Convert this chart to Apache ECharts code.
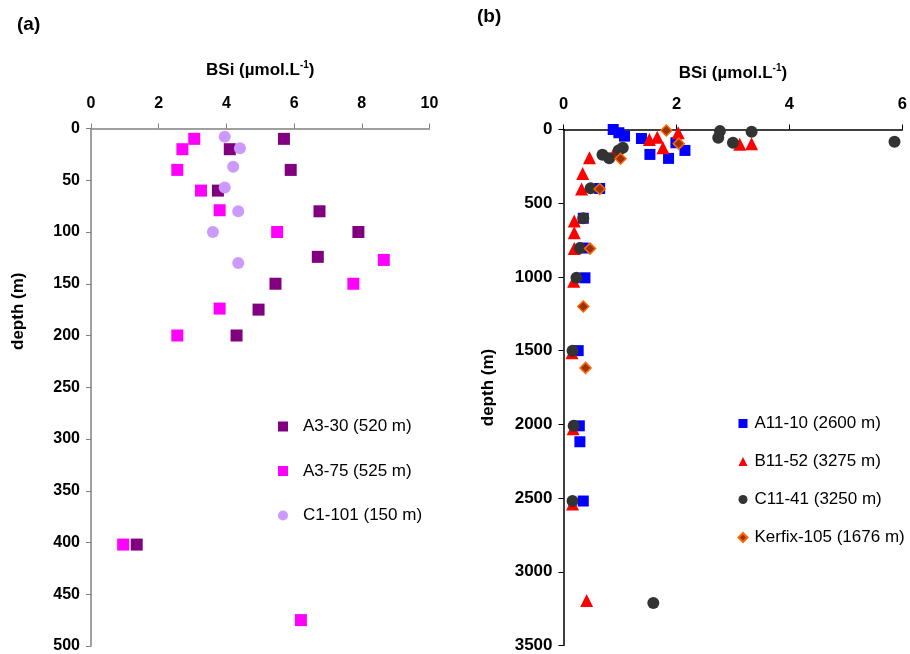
<!DOCTYPE html>
<html>
<head>
<meta charset="utf-8">
<script src="https://cdn.jsdelivr.net/npm/echarts@6/dist/echarts.min.js"></script>
<style>
html,body{margin:0;padding:0;background:#fff;}
#chart{width:910px;height:654px;}
</style>
</head>
<body>
<div id="chart"></div>
<script>
// ---------- Panel (a) data ----------
var a330_x = [5.7, 4.1, 5.9, 3.75, 6.75, 7.9, 6.7, 5.45, 4.95, 4.3, 1.35];
var a330_y = [10, 20, 40, 60, 80, 100, 124, 150, 175, 200, 402];
var a375_x = [3.05, 2.7, 2.55, 3.25, 3.8, 5.5, 8.65, 7.75, 3.8, 2.55, 0.95, 6.2];
var a375_y = [10, 20, 40, 60, 79, 100, 127, 150, 174, 200, 402, 475];
var c1101_x = [3.95, 4.4, 4.2, 3.95, 4.35, 3.6, 4.35];
var c1101_y = [8, 19, 37, 57, 80, 100, 130];
var namesA = ['A3-30 (520 m)', 'A3-75 (525 m)', 'C1-101 (150 m)'];
var ticksAx = [0, 2, 4, 6, 8, 10];
var ticksAy = [0, 50, 100, 150, 200, 250, 300, 350, 400, 450, 500];

// ---------- Panel (b) data ----------
var a1110_x = [0.88, 0.98, 1.08, 1.38, 1.53, 1.86, 2.15, 1.99, 0.64, 0.35, 0.35, 0.38, 0.26, 0.28, 0.29, 0.35];
var a1110_y = [0, 22, 45, 61, 169, 196, 142, 90, 400, 602, 804, 1006, 1500, 2010, 2118, 2520];
var b1152_x = [0.46, 0.34, 0.32, 0.9, 1.52, 1.66, 1.76, 2.03, 3.12, 3.33, 0.19, 0.19, 0.19, 0.18, 0.15, 0.17, 0.16, 0.41];
var b1152_y = [191, 298, 404, 157, 67, 52, 123, 22, 100, 96, 620, 700, 808, 1030, 1515, 2030, 2540, 3195];
var c1141_x = [0.69, 0.81, 1.05, 0.98, 0.48, 0.35, 0.29, 0.23, 0.16, 0.18, 0.16, 1.59, 2.77, 2.74, 3.0, 3.33, 5.86];
var c1141_y = [172, 195, 123, 141, 398, 602, 804, 1006, 1500, 2010, 2520, 3212, 11, 56, 90, 16, 83];
var kerfix_x = [1.82, 2.04, 1.01, 0.64, 0.47, 0.35, 0.39];
var kerfix_y = [7, 96, 198, 404, 808, 1201, 1617];
var namesB = ['A11-10 (2600 m)', 'B11-52 (3275 m)', 'C11-41 (3250 m)', 'Kerfix-105 (1676 m)'];
var ticksBx = [0, 2, 4, 6];
var ticksBy = [0, 500, 1000, 1500, 2000, 2500, 3000, 3500];

function pts(xs, ys) { return xs.map(function (x, i) { return [x, ys[i]]; }); }

var FONT = 'Liberation Sans, Arial, sans-serif';
var richName = {
  sup: { fontSize: 10, fontWeight: 'bold', fontFamily: FONT, color: '#000', padding: [0, 0, 10, 0] }
};
function plain(v) { return String(v); }

function xAxis(idx, max, interval, lineColor, gap, fs) {
  return {
    gridIndex: idx, type: 'value', position: 'top', min: 0, max: max, interval: interval,
    name: 'BSi (µmol.L{sup|-1})', nameLocation: 'middle', nameGap: gap,
    nameTextStyle: { fontSize: 17, fontWeight: 'bold', fontFamily: FONT, color: '#000', rich: richName },
    axisLine: { show: true, lineStyle: { color: lineColor, width: 1.5 } },
    axisTick: { show: true, inside: false, length: 5, lineStyle: { color: lineColor } },
    axisLabel: { fontSize: fs, fontWeight: 'bold', fontFamily: FONT, color: '#000', margin: 17, formatter: plain },
    splitLine: { show: false }
  };
}
function yAxis(idx, max, interval, lineColor, withName, fs) {
  var ax = {
    gridIndex: idx, type: 'value', inverse: true, min: 0, max: max, interval: interval,
    axisLine: { show: true, onZero: false, lineStyle: { color: lineColor, width: 1.5 } },
    axisTick: { show: true, inside: false, length: 5, lineStyle: { color: lineColor } },
    axisLabel: { fontSize: fs, fontWeight: 'bold', fontFamily: FONT, color: '#000', margin: 11, formatter: plain },
    splitLine: { show: false }
  };
  if (withName) {
    ax.name = 'depth (m)'; ax.nameLocation = 'middle'; ax.nameGap = 67; ax.nameRotate = 90;
    ax.nameTextStyle = { fontSize: 17, fontWeight: 'bold', fontFamily: FONT, color: '#000' };
  }
  return ax;
}

var chart = echarts.init(document.getElementById('chart'), null, { renderer: 'canvas' });
var option = {
  animation: false,
  backgroundColor: '#fff',
  grid: [
    { left: 91, top: 128.5, width: 338.5, height: 520 },
    { left: 563.5, top: 129.5, width: 343, height: 519.5 }
  ],
  xAxis: [xAxis(0, 10, 2, '#808080', 48, 16), xAxis(1, 6, 2, '#000', 46, 16.5)],
  yAxis: [yAxis(0, 500, 50, '#808080', false, 16), yAxis(1, 3500, 500, '#000', true, 17)],
  legend: [
    {
      data: namesA, orient: 'vertical', left: 278, top: 418, padding: 0, itemWidth: 10, itemHeight: 10,
      itemGap: 27.5, textStyle: { fontSize: 17, fontFamily: FONT, color: '#000', padding: [0, 0, 0, 10] }
    },
    {
      data: namesB, orient: 'vertical', left: 737.5, top: 415, padding: 0, itemWidth: 9, itemHeight: 9,
      itemGap: 21, textStyle: { fontSize: 17, fontFamily: FONT, color: '#000', padding: [0, 0, 0, 2] }
    }
  ],
  graphic: [
    { type: 'text', left: 17, top: 15, style: { text: '(a)', fontSize: 19, fontWeight: 'bold', fontFamily: FONT, fill: '#000' } },
    { type: 'text', left: 477, top: 7, style: { text: '(b)', fontSize: 19, fontWeight: 'bold', fontFamily: FONT, fill: '#000' } },
    { type: 'text', x: 18, y: 350, rotation: Math.PI / 2,
      style: { text: 'depth (m)', fontSize: 17, fontWeight: 'bold', fontFamily: FONT, fill: '#000', align: 'left', verticalAlign: 'middle' } }
  ],
  series: [
    { name: namesA[0], type: 'scatter', xAxisIndex: 0, yAxisIndex: 0, clip: false, symbol: 'rect', symbolSize: 12,
      itemStyle: { color: '#800080', opacity: 1 }, data: pts(a330_x, a330_y) },
    { name: namesA[1], type: 'scatter', xAxisIndex: 0, yAxisIndex: 0, clip: false, symbol: 'rect', symbolSize: 12,
      itemStyle: { color: '#ff00ff', opacity: 1 }, data: pts(a375_x, a375_y) },
    { name: namesA[2], type: 'scatter', xAxisIndex: 0, yAxisIndex: 0, clip: false, symbol: 'circle', symbolSize: 12,
      itemStyle: { color: '#cc99ff', opacity: 1 }, data: pts(c1101_x, c1101_y) },
    { name: namesB[0], type: 'scatter', xAxisIndex: 1, yAxisIndex: 1, clip: false, symbol: 'rect', symbolSize: 11,
      itemStyle: { color: '#0000ff', opacity: 1 }, data: pts(a1110_x, a1110_y) },
    { name: namesB[1], type: 'scatter', xAxisIndex: 1, yAxisIndex: 1, clip: false, symbol: 'triangle', symbolSize: 13,
      itemStyle: { color: '#ff0000', opacity: 1 }, data: pts(b1152_x, b1152_y) },
    { name: namesB[2], type: 'scatter', xAxisIndex: 1, yAxisIndex: 1, clip: false, symbol: 'circle', symbolSize: 12,
      itemStyle: { color: '#333333', opacity: 1 }, data: pts(c1141_x, c1141_y) },
    { name: namesB[3], type: 'scatter', xAxisIndex: 1, yAxisIndex: 1, clip: false, symbol: 'diamond', symbolSize: 11,
      itemStyle: { color: '#993300', borderColor: '#ff6600', borderWidth: 1.5, opacity: 1 }, data: pts(kerfix_x, kerfix_y) }
  ]
};
chart.setOption(option);
</script>
</body>
</html>
